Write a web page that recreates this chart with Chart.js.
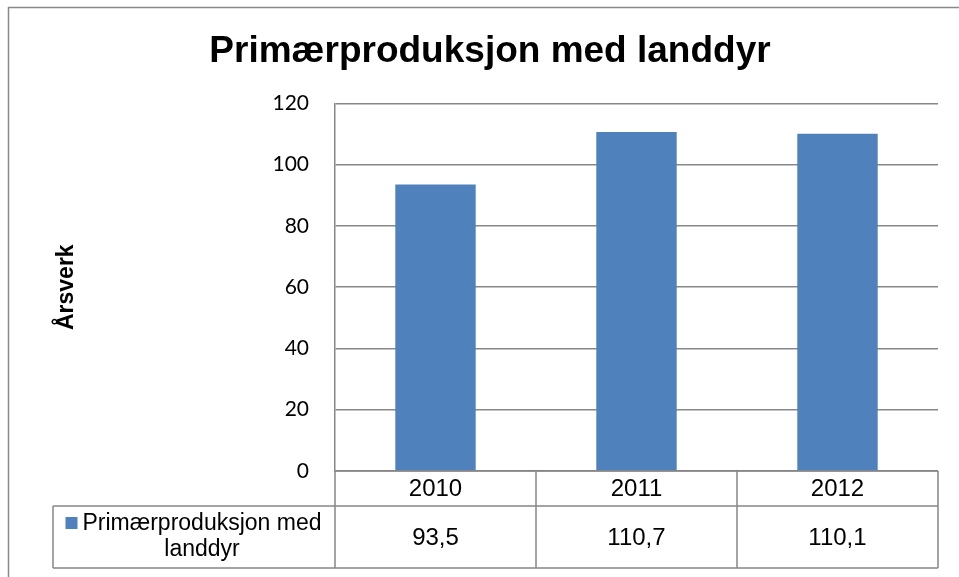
<!DOCTYPE html>
<html>
<head>
<meta charset="utf-8">
<script src="https://cdn.jsdelivr.net/npm/chart.js@4"></script>
<style>
  html, body { margin: 0; padding: 0; background: #fff; }
  #wrap { width: 959px; height: 577px; position: relative; }
</style>
</head>
<body>
<div id="wrap"><canvas id="myChart"></canvas></div>
<script>
const years = ['2010', '2011', '2012'];
const seriesName = 'Primærproduksjon med landdyr';
const values = [93.5, 110.7, 110.1];
const yMin = 0;
const yMax = 120;
const yStep = 20;

const barColor = '#4f81bd';
const lineColor = '#878787';
const ctx = document.getElementById('myChart');

Chart.defaults.font.family = '"Liberation Sans", Arial, sans-serif';
Chart.defaults.color = '#000';

// frame round the whole chart (only top and left edge are inside the picture)
const framePlugin = {
  id: 'frame',
  beforeDraw(chart) {
    const c = chart.ctx;
    c.save();
    c.fillStyle = '#fff';
    c.fillRect(0, 0, chart.width, chart.height);
    c.strokeStyle = '#8a8a8a';
    c.lineWidth = 1.5;
    c.beginPath();
    c.moveTo(8.5, chart.height);
    c.lineTo(8.5, 7.5);
    c.lineTo(chart.width, 7.5);
    c.stroke();
    c.restore();
  }
};

function wrapText(c, text, maxW) {
  const words = text.split(' ');
  const lines = [];
  let line = '';
  words.forEach(w => {
    const test = line ? line + ' ' + w : w;
    if (c.measureText(test).width > maxW && line) {
      lines.push(line);
      line = w;
    } else {
      line = test;
    }
  });
  lines.push(line);
  return lines;
}

// data table under the plot, with legend key
const tablePlugin = {
  id: 'dataTable',
  afterDraw(chart) {
    const c = chart.ctx;
    const a = chart.chartArea;
    const x = chart.scales.x;
    const colW = (a.right - a.left) / years.length;
    const top = a.bottom;
    const mid = top + 35;
    const bot = mid + 62;
    const legLeft = 53;

    c.save();
    c.strokeStyle = lineColor;
    c.lineWidth = 1.5;
    c.beginPath();
    c.moveTo(a.left, top); c.lineTo(a.right, top);
    c.moveTo(legLeft, mid); c.lineTo(a.right, mid);
    c.moveTo(legLeft, bot); c.lineTo(a.right, bot);
    c.moveTo(legLeft, mid); c.lineTo(legLeft, bot);
    c.moveTo(a.left, top); c.lineTo(a.left, bot);
    years.forEach((y, i) => {
      const r = x.getPixelForValue(i) + colW / 2;
      c.moveTo(r, top); c.lineTo(r, bot);
    });
    c.stroke();

    c.fillStyle = '#000';
    c.font = '24px "Liberation Sans", Arial, sans-serif';
    c.textAlign = 'center';
    c.textBaseline = 'middle';
    years.forEach((y, i) => {
      const cx = x.getPixelForValue(i);
      c.fillText(y, cx, (top + mid) / 2 + 1);
      c.fillText(values[i].toFixed(1).replace('.', ','), cx, (mid + bot) / 2 + 1);
    });

    // legend cell
    c.font = '23px "Liberation Sans", Arial, sans-serif';
    const lines = wrapText(c, seriesName, a.left - legLeft - 24);
    const lineH = 26;
    const textCx = (legLeft + a.left) / 2 + 8;
    const y0 = (mid + bot) / 2 - (lines.length - 1) * lineH / 2;
    lines.forEach((l, i) => c.fillText(l, textCx, y0 + i * lineH));
    const firstW = c.measureText(lines[0]).width;
    c.fillStyle = barColor;
    c.fillRect(textCx - firstW / 2 - 17, y0 - 7, 12, 12);
    c.restore();
  }
};

new Chart(ctx, {
  type: 'bar',
  data: {
    labels: years,
    datasets: [{
      label: seriesName,
      data: values,
      backgroundColor: barColor,
      borderWidth: 0,
      barPercentage: 0.4,
      categoryPercentage: 1
    }]
  },
  options: {
    responsive: true,
    maintainAspectRatio: false,
    animation: false,
    layout: { padding: { top: 0, left: 21, right: 0, bottom: 106 } },
    plugins: {
      legend: { display: false },
      tooltip: { enabled: false },
      title: {
        display: true,
        text: 'Primærproduksjon med landdyr',
        color: '#000',
        font: { size: 37, weight: 'bold' },
        padding: { top: 30, bottom: 29 }
      }
    },
    scales: {
      x: { display: false },
      y: {
        min: yMin,
        max: yMax,
        ticks: {
          stepSize: yStep,
          padding: 26,
          color: '#000',
          font: { family: 'Lato, "Open Sans", sans-serif', size: 21 }
        },
        grid: { color: lineColor, lineWidth: 1.5, drawTicks: false },
        border: { display: true, color: lineColor, width: 1.5 },
        title: {
          display: true,
          text: 'Årsverk',
          color: '#000',
          font: { size: 23, weight: 'bold' },
          padding: { top: 32, bottom: 0 }
        },
        afterFit(scale) { scale.width = 314; }
      },
      y2: {
        position: 'right',
        display: true,
        grid: { display: false },
        border: { display: false },
        ticks: { display: false },
        afterFit(scale) { scale.width = 21; }
      }
    }
  },
  plugins: [framePlugin, tablePlugin]
});
</script>
</body>
</html>
